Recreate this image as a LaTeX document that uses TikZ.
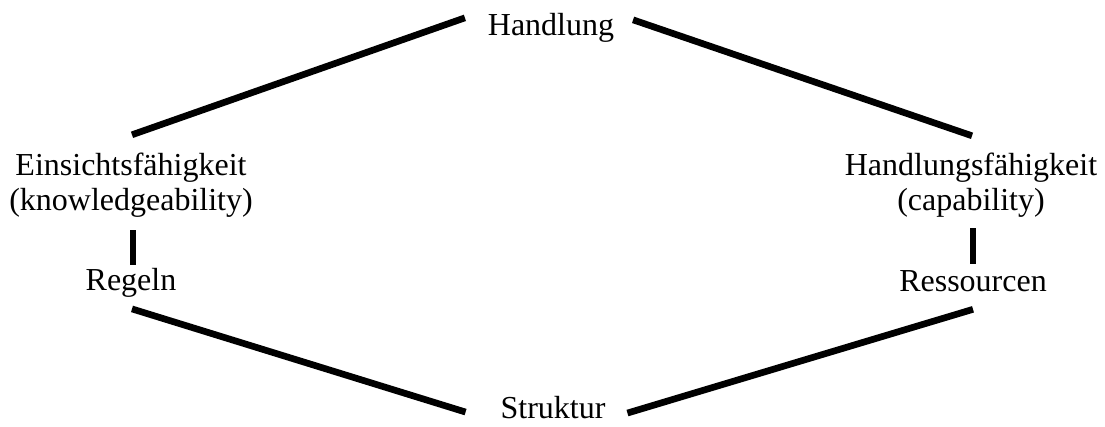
\documentclass[tikz,border=0pt]{standalone}
\usepackage{fontspec}
\setmainfont{Liberation Serif}
\usetikzlibrary{positioning, calc}

\begin{document}
\begin{tikzpicture}[x=0.75pt, y=-0.75pt]
	\tikzstyle{term} = [
	align=center,
	inner sep=0pt,
	outer sep=0pt,
	font=\fontsize{24}{26.25}\selectfont
	]
	\tikzstyle{link} = [line width=5pt]
	\useasboundingbox (0,0) rectangle (1105,426);
	
	\node[term, anchor=base] (handlung) at (551,35) {Handlung};
	\node[term, anchor=base] (struktur) at (553,418) {Struktur};
	\node[term] (einsicht) at (131,185) {Einsichtsfähigkeit\\(knowledgeability)};
	\node[term] (faehigkeit) at (971,185) {Handlungsfähigkeit\\(capability)};
	\node[term, anchor=base] (regeln) at (131,290) {Regeln};
	\node[term, anchor=base] (ressourcen) at (973,291) {Ressourcen};
	
	\draw[link] ($(einsicht.north)+(1,-18)$) -- ($(handlung.west)+(-23,-9.5)$);
	\draw[link] ($(handlung.east)+(19,-7.5)$) -- ($(faehigkeit.north)+(1,-17)$);
	\draw[link] ($(einsicht.south)+(2,13)$) -- ($(regeln.north)+(2,-3)$);
	\draw[link] ($(faehigkeit.south)+(2,11)$) -- ($(ressourcen.north)+(0,-6)$);
	\draw[link] ($(regeln.south)+(1,12)$) -- ($(struktur.west)+(-35,5)$);
	\draw[link] ($(struktur.east)+(22,6)$) -- ($(ressourcen.south)+(0,18)$);
\end{tikzpicture}
\end{document}
